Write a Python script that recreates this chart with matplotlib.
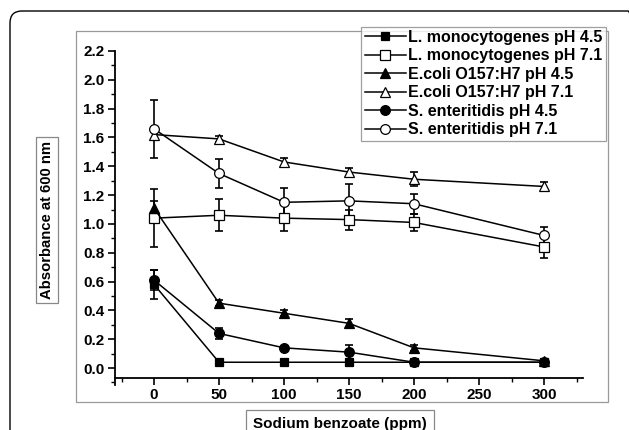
import matplotlib
matplotlib.use("Agg")
import matplotlib.pyplot as plt
from matplotlib.patches import FancyBboxPatch, Rectangle
from matplotlib.lines import Line2D
from matplotlib.transforms import IdentityTransform
from matplotlib.ticker import MultipleLocator

plt.rcParams['font.family'] = ['Liberation Sans', 'DejaVu Sans']
plt.rcParams['font.weight'] = 'bold'

# benzoate concentration (ppm)
conc = [0, 50, 100, 150, 200, 300]

# absorbance at 600 nm and error bars
lm45 = [0.58, 0.04, 0.04, 0.04, 0.04, 0.04]
lm45_err = [0.10, 0.01, 0.01, 0.01, 0.01, 0.01]
lm71 = [1.04, 1.06, 1.04, 1.03, 1.01, 0.84]
lm71_err = [0.20, 0.11, 0.09, 0.07, 0.06, 0.08]
ec45 = [1.11, 0.45, 0.38, 0.31, 0.14, 0.05]
ec45_err = [0.05, 0.02, 0.02, 0.03, 0.02, 0.01]
ec71 = [1.62, 1.59, 1.43, 1.36, 1.31, 1.26]
ec71_err = [0.03, 0.02, 0.03, 0.03, 0.05, 0.03]
se45 = [0.61, 0.24, 0.14, 0.11, 0.04, 0.04]
se45_err = [0.07, 0.04, 0.01, 0.05, 0.01, 0.01]
se71 = [1.66, 1.35, 1.15, 1.16, 1.14, 0.92]
se71_err = [0.20, 0.10, 0.10, 0.12, 0.07, 0.06]

labels = ["L. monocytogenes pH 4.5", "L. monocytogenes pH 7.1",
          "E.coli O157:H7 pH 4.5", "E.coli O157:H7 pH 7.1",
          "S. enteritidis pH 4.5", "S. enteritidis pH 7.1"]

series = [
    (lm45, lm45_err, 's', 'black', 6),
    (lm71, lm71_err, 's', 'white', 6.5),
    (ec45, ec45_err, '^', 'black', 7),
    (ec71, ec71_err, '^', 'white', 7),
    (se45, se45_err, 'o', 'black', 7),
    (se71, se71_err, 'o', 'white', 7),
]

W, H = 629, 430
fig = plt.figure(figsize=(W / 100, H / 100), dpi=100)

# outer rounded frame and inner gray frame (pixel coords)
outer = FancyBboxPatch((10, -30), 630, 449, boxstyle="round,pad=0,rounding_size=12",
                       transform=IdentityTransform(), fill=False, edgecolor='black', linewidth=1.0)
fig.patches.append(outer)
inner = Rectangle((76, H - 401.7), 532, 371, transform=IdentityTransform(),
                  fill=False, edgecolor='#999999', linewidth=0.9)
fig.patches.append(inner)

ax = fig.add_axes([115 / W, (H - 385.3) / H, 468 / W, (385.3 - 51) / H])
ax.set_xlim(-30, 330)
ax.set_ylim(-0.12, 2.2)
ax.patch.set_alpha(0)

handles = []
for (vals, err, mk, fc, ms), lab in zip(series, labels):
    ax.errorbar(conc, vals, yerr=err, fmt='none', ecolor='black', elinewidth=1.2,
                capsize=3, capthick=1.2, zorder=2)
    ax.plot(conc, vals, color='black', linewidth=1.1, marker=mk, markersize=ms,
            markerfacecolor=fc, markeredgecolor='black', markeredgewidth=0.9, zorder=3)
    handles.append(Line2D([], [], color='black', linewidth=1.1, marker=mk, markersize=ms,
                          markerfacecolor=fc, markeredgecolor='black', markeredgewidth=0.9))

for s in ['top', 'right']:
    ax.spines[s].set_visible(False)
ax.spines['bottom'].set_position(('data', -0.067))
ax.spines['left'].set_linewidth(1.3)
ax.spines['bottom'].set_linewidth(1.3)

ax.xaxis.set_major_locator(MultipleLocator(50))
ax.xaxis.set_minor_locator(MultipleLocator(25))
ax.yaxis.set_major_locator(MultipleLocator(0.2))
ax.yaxis.set_minor_locator(MultipleLocator(0.1))
ax.set_xticks(conc[:5] + [250, 300])
ax.set_yticks([i * 0.2 for i in range(12)])
ax.set_yticklabels([f"{i * 0.2:.1f}" for i in range(12)])
ax.tick_params(which='major', direction='out', length=5, width=1.2, labelsize=11, pad=2.5)
ax.tick_params(which='minor', direction='out', length=3, width=1.0)
for t in ax.get_xticklabels() + ax.get_yticklabels():
    t.set_fontweight('bold')

box = dict(boxstyle='square,pad=0.3', facecolor='white', edgecolor='#888888', linewidth=0.9)
fig.text(47 / W, 1 - 220 / H, "Absorbance at 600 nm", rotation=90, ha='center', va='center',
         fontsize=10.7, fontweight='bold', bbox=box)
fig.text(340 / W, 1 - 424 / H, "Sodium benzoate (ppm)", ha='center', va='center',
         fontsize=11, fontweight='bold',
         bbox=dict(boxstyle='square,pad=0.45', facecolor='white', edgecolor='#888888', linewidth=0.9))

leg = fig.legend(handles, labels, loc='upper right', bbox_to_anchor=(606 / W, 1 - 26.7 / H),
                 prop={'size': 11.5, 'weight': 'bold'}, frameon=True, fancybox=False,
                 handlelength=2.6, handletextpad=0.15, labelspacing=0.22, borderpad=0.2,
                 borderaxespad=0)
leg.get_frame().set_edgecolor('#888888')
leg.get_frame().set_linewidth(0.9)

fig.savefig("out.png", dpi=100)
